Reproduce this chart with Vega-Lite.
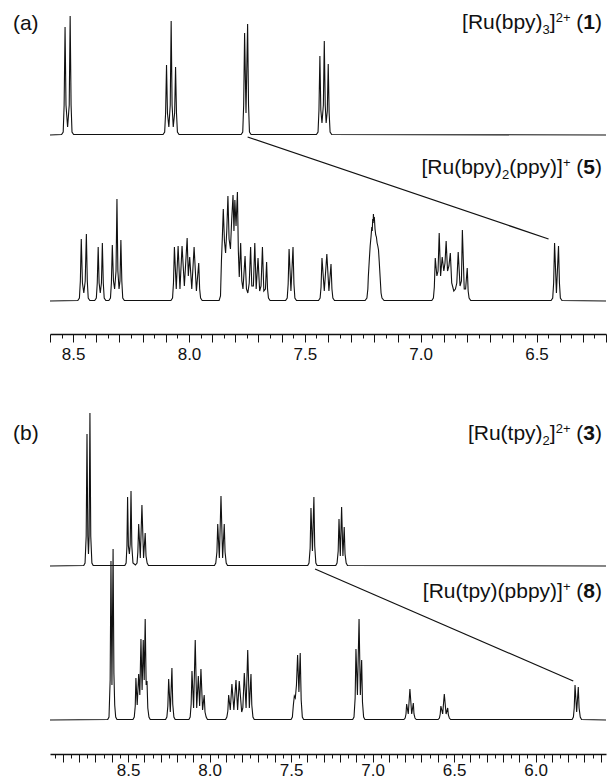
{
"$schema": "https://vega.github.io/schema/vega-lite/v6.json",
"background": "white",
"padding": {"left": 12, "top": 5, "right": 3, "bottom": 0},
"spacing": 29,
"config": {"view": {"stroke": null}, "font": "Liberation Sans",
  "axis": {"domainColor": "#111", "domainWidth": 1.5, "tickColor": "#111", "tickWidth": 1, "labelFont": "Liberation Sans", "labelFontSize": 17, "labelColor": "#111", "grid": false, "title": null},
  "axisX": {"tickCount": 50,
    "tickSize": {"condition": {"test": "abs(datum.value*10 - round(datum.value*10)) < 0.001", "value": 8}, "value": 4},
    "labelExpr": "abs(datum.value*2 - round(datum.value*2)) < 0.001 ? format(datum.value, '.1f') : ''",
    "labelPadding": 4, "labelOverlap": false, "labelFlush": false}},
"datasets": {
"a_top": [
{"ppm":8.6,"intensity":0},{"ppm":8.55,"intensity":0.5},{"ppm":8.543,"intensity":3},{"ppm":8.539,"intensity":30},{"ppm":8.535,"intensity":108},{"ppm":8.531,"intensity":30},{"ppm":8.524,"intensity":8},{"ppm":8.517,"intensity":30},{"ppm":8.513,"intensity":119},{"ppm":8.509,"intensity":30},{"ppm":8.505,"intensity":3},{"ppm":8.498,"intensity":0.5},
{"ppm":8.112,"intensity":0.5},{"ppm":8.105,"intensity":3},{"ppm":8.101,"intensity":22},{"ppm":8.097,"intensity":70},{"ppm":8.093,"intensity":22},{"ppm":8.087,"intensity":8},{"ppm":8.081,"intensity":30},{"ppm":8.077,"intensity":114},{"ppm":8.073,"intensity":30},{"ppm":8.068,"intensity":8},{"ppm":8.062,"intensity":22},{"ppm":8.058,"intensity":68},{"ppm":8.054,"intensity":22},{"ppm":8.05,"intensity":3},{"ppm":8.043,"intensity":0.5},
{"ppm":7.775,"intensity":0.5},{"ppm":7.768,"intensity":3},{"ppm":7.764,"intensity":30},{"ppm":7.76,"intensity":102},{"ppm":7.754,"intensity":22},{"ppm":7.747,"intensity":111},{"ppm":7.743,"intensity":30},{"ppm":7.739,"intensity":3},{"ppm":7.732,"intensity":0.5},
{"ppm":7.45,"intensity":0.5},{"ppm":7.443,"intensity":3},{"ppm":7.439,"intensity":25},{"ppm":7.435,"intensity":79},{"ppm":7.431,"intensity":25},{"ppm":7.426,"intensity":12},{"ppm":7.42,"intensity":30},{"ppm":7.416,"intensity":94},{"ppm":7.412,"intensity":30},{"ppm":7.408,"intensity":12},{"ppm":7.403,"intensity":24},{"ppm":7.399,"intensity":71},{"ppm":7.395,"intensity":22},{"ppm":7.391,"intensity":3},{"ppm":7.384,"intensity":0.5},
{"ppm":6.2,"intensity":0}],
"a_bot": [
{"ppm":8.6,"intensity":0},
{"ppm":8.48,"intensity":0.5},{"ppm":8.473,"intensity":3},{"ppm":8.469,"intensity":20},{"ppm":8.465,"intensity":62},{"ppm":8.46,"intensity":18},{"ppm":8.454,"intensity":8},{"ppm":8.448,"intensity":20},{"ppm":8.443,"intensity":67},{"ppm":8.439,"intensity":20},{"ppm":8.435,"intensity":3},{"ppm":8.428,"intensity":0.5},
{"ppm":8.407,"intensity":0.5},{"ppm":8.4,"intensity":3},{"ppm":8.396,"intensity":18},{"ppm":8.392,"intensity":54},{"ppm":8.388,"intensity":18},{"ppm":8.383,"intensity":8},{"ppm":8.378,"intensity":18},{"ppm":8.374,"intensity":58},{"ppm":8.37,"intensity":18},{"ppm":8.366,"intensity":3},{"ppm":8.359,"intensity":0.5},
{"ppm":8.346,"intensity":0.5},{"ppm":8.339,"intensity":3},{"ppm":8.335,"intensity":18},{"ppm":8.331,"intensity":56},{"ppm":8.326,"intensity":20},{"ppm":8.321,"intensity":12},{"ppm":8.315,"intensity":30},{"ppm":8.311,"intensity":102},{"ppm":8.307,"intensity":30},{"ppm":8.302,"intensity":12},{"ppm":8.298,"intensity":20},{"ppm":8.294,"intensity":61},{"ppm":8.29,"intensity":20},{"ppm":8.286,"intensity":3},{"ppm":8.279,"intensity":0.5},
{"ppm":8.078,"intensity":0.5},{"ppm":8.071,"intensity":3},{"ppm":8.067,"intensity":18},{"ppm":8.063,"intensity":54},{"ppm":8.055,"intensity":12},{"ppm":8.047,"intensity":55},{"ppm":8.039,"intensity":12},{"ppm":8.03,"intensity":55},{"ppm":8.02,"intensity":15},{"ppm":8.008,"intensity":63},{"ppm":8.003,"intensity":25},{"ppm":7.997,"intensity":44},{"ppm":7.988,"intensity":12},{"ppm":7.978,"intensity":54},{"ppm":7.968,"intensity":10},{"ppm":7.958,"intensity":38},{"ppm":7.954,"intensity":12},{"ppm":7.95,"intensity":3},{"ppm":7.943,"intensity":0.5},
{"ppm":7.87,"intensity":0.5},{"ppm":7.864,"intensity":5},{"ppm":7.86,"intensity":40},{"ppm":7.856,"intensity":64},{"ppm":7.852,"intensity":92},{"ppm":7.847,"intensity":60},{"ppm":7.842,"intensity":48},{"ppm":7.837,"intensity":70},{"ppm":7.832,"intensity":105},{"ppm":7.827,"intensity":62},{"ppm":7.821,"intensity":52},{"ppm":7.816,"intensity":80},{"ppm":7.81,"intensity":106},{"ppm":7.806,"intensity":70},{"ppm":7.802,"intensity":101},{"ppm":7.797,"intensity":75},{"ppm":7.791,"intensity":109},{"ppm":7.787,"intensity":50},{"ppm":7.783,"intensity":24},{"ppm":7.777,"intensity":58},{"ppm":7.772,"intensity":20},{"ppm":7.767,"intensity":12},{"ppm":7.758,"intensity":45},{"ppm":7.752,"intensity":12},{"ppm":7.746,"intensity":8},{"ppm":7.74,"intensity":18},{"ppm":7.734,"intensity":54},{"ppm":7.729,"intensity":15},{"ppm":7.722,"intensity":15},{"ppm":7.716,"intensity":58},{"ppm":7.71,"intensity":12},{"ppm":7.702,"intensity":43},{"ppm":7.695,"intensity":10},{"ppm":7.689,"intensity":15},{"ppm":7.683,"intensity":54},{"ppm":7.677,"intensity":10},{"ppm":7.67,"intensity":12},{"ppm":7.665,"intensity":39},{"ppm":7.661,"intensity":12},{"ppm":7.657,"intensity":3},{"ppm":7.65,"intensity":0.5},
{"ppm":7.583,"intensity":0.5},{"ppm":7.576,"intensity":3},{"ppm":7.572,"intensity":17},{"ppm":7.568,"intensity":52},{"ppm":7.56,"intensity":10},{"ppm":7.551,"intensity":54},{"ppm":7.547,"intensity":17},{"ppm":7.543,"intensity":3},{"ppm":7.536,"intensity":0.5},
{"ppm":7.441,"intensity":0.5},{"ppm":7.434,"intensity":3},{"ppm":7.43,"intensity":14},{"ppm":7.426,"intensity":43},{"ppm":7.416,"intensity":10},{"ppm":7.405,"intensity":47},{"ppm":7.396,"intensity":10},{"ppm":7.387,"intensity":37},{"ppm":7.383,"intensity":12},{"ppm":7.379,"intensity":3},{"ppm":7.372,"intensity":0.5},
{"ppm":7.24,"intensity":0.5},{"ppm":7.232,"intensity":3},{"ppm":7.228,"intensity":12},{"ppm":7.226,"intensity":24},{"ppm":7.222,"intensity":40},{"ppm":7.218,"intensity":55},{"ppm":7.214,"intensity":65},{"ppm":7.211,"intensity":74},{"ppm":7.209,"intensity":70},{"ppm":7.207,"intensity":82},{"ppm":7.205,"intensity":78},{"ppm":7.204,"intensity":87},{"ppm":7.202,"intensity":80},{"ppm":7.2,"intensity":84},{"ppm":7.197,"intensity":72},{"ppm":7.194,"intensity":66},{"ppm":7.191,"intensity":64},{"ppm":7.188,"intensity":58},{"ppm":7.185,"intensity":55},{"ppm":7.182,"intensity":51},{"ppm":7.179,"intensity":40},{"ppm":7.175,"intensity":24},{"ppm":7.171,"intensity":8},{"ppm":7.167,"intensity":3},{"ppm":7.158,"intensity":0.5},
{"ppm":6.952,"intensity":0.5},{"ppm":6.945,"intensity":3},{"ppm":6.941,"intensity":14},{"ppm":6.937,"intensity":43},{"ppm":6.93,"intensity":25},{"ppm":6.925,"intensity":30},{"ppm":6.92,"intensity":68},{"ppm":6.914,"intensity":25},{"ppm":6.907,"intensity":44},{"ppm":6.9,"intensity":30},{"ppm":6.895,"intensity":38},{"ppm":6.89,"intensity":60},{"ppm":6.884,"intensity":30},{"ppm":6.878,"intensity":35},{"ppm":6.872,"intensity":48},{"ppm":6.866,"intensity":18},{"ppm":6.857,"intensity":10},{"ppm":6.85,"intensity":12},{"ppm":6.844,"intensity":18},{"ppm":6.838,"intensity":49},{"ppm":6.83,"intensity":15},{"ppm":6.824,"intensity":20},{"ppm":6.82,"intensity":71},{"ppm":6.812,"intensity":12},{"ppm":6.806,"intensity":12},{"ppm":6.799,"intensity":33},{"ppm":6.795,"intensity":10},{"ppm":6.791,"intensity":3},{"ppm":6.784,"intensity":0.5},
{"ppm":6.437,"intensity":0.5},{"ppm":6.43,"intensity":3},{"ppm":6.426,"intensity":18},{"ppm":6.422,"intensity":58},{"ppm":6.414,"intensity":8},{"ppm":6.405,"intensity":55},{"ppm":6.401,"intensity":18},{"ppm":6.397,"intensity":3},{"ppm":6.39,"intensity":0.5},
{"ppm":6.2,"intensity":0}],
"a_link": [{"ppm":7.747,"intensity":164},{"ppm":6.448,"intensity":62}],
"b_top": [
{"ppm":8.979,"intensity":0},
{"ppm":8.772,"intensity":0.5},{"ppm":8.764,"intensity":3},{"ppm":8.757,"intensity":30},{"ppm":8.752,"intensity":132},{"ppm":8.747,"intensity":30},{"ppm":8.743,"intensity":12},{"ppm":8.739,"intensity":30},{"ppm":8.734,"intensity":153},{"ppm":8.729,"intensity":30},{"ppm":8.722,"intensity":3},{"ppm":8.714,"intensity":0.5},
{"ppm":8.52,"intensity":0.5},{"ppm":8.512,"intensity":3},{"ppm":8.507,"intensity":20},{"ppm":8.503,"intensity":69},{"ppm":8.498,"intensity":20},{"ppm":8.492,"intensity":12},{"ppm":8.487,"intensity":22},{"ppm":8.482,"intensity":75},{"ppm":8.477,"intensity":20},{"ppm":8.47,"intensity":3},
{"ppm":8.455,"intensity":1},{"ppm":8.445,"intensity":3},{"ppm":8.44,"intensity":14},{"ppm":8.435,"intensity":42},{"ppm":8.425,"intensity":8},{"ppm":8.415,"intensity":61},{"ppm":8.405,"intensity":8},{"ppm":8.395,"intensity":33},{"ppm":8.39,"intensity":10},{"ppm":8.383,"intensity":3},{"ppm":8.375,"intensity":0.5},
{"ppm":7.97,"intensity":0.5},{"ppm":7.962,"intensity":3},{"ppm":7.955,"intensity":14},{"ppm":7.95,"intensity":42},{"ppm":7.94,"intensity":8},{"ppm":7.93,"intensity":70},{"ppm":7.92,"intensity":8},{"ppm":7.91,"intensity":42},{"ppm":7.905,"intensity":14},{"ppm":7.898,"intensity":3},{"ppm":7.89,"intensity":0.5},
{"ppm":7.398,"intensity":0.5},{"ppm":7.39,"intensity":3},{"ppm":7.383,"intensity":18},{"ppm":7.378,"intensity":58},{"ppm":7.369,"intensity":15},{"ppm":7.36,"intensity":69},{"ppm":7.355,"intensity":20},{"ppm":7.348,"intensity":3},{"ppm":7.34,"intensity":0.5},
{"ppm":7.226,"intensity":0.5},{"ppm":7.218,"intensity":3},{"ppm":7.211,"intensity":15},{"ppm":7.206,"intensity":47},{"ppm":7.198,"intensity":10},{"ppm":7.19,"intensity":59},{"ppm":7.182,"intensity":10},{"ppm":7.174,"intensity":39},{"ppm":7.169,"intensity":12},{"ppm":7.162,"intensity":3},{"ppm":7.154,"intensity":0.5},
{"ppm":5.568,"intensity":0}],
"b_bot": [
{"ppm":8.979,"intensity":0},
{"ppm":8.625,"intensity":0.5},{"ppm":8.617,"intensity":3},{"ppm":8.61,"intensity":40},{"ppm":8.605,"intensity":159},{"ppm":8.599,"intensity":35},{"ppm":8.592,"intensity":171},{"ppm":8.587,"intensity":47},{"ppm":8.582,"intensity":15},{"ppm":8.576,"intensity":3},{"ppm":8.568,"intensity":0.5},
{"ppm":8.47,"intensity":0.5},{"ppm":8.462,"intensity":3},{"ppm":8.456,"intensity":14},{"ppm":8.452,"intensity":42},{"ppm":8.444,"intensity":15},{"ppm":8.435,"intensity":46},{"ppm":8.428,"intensity":25},{"ppm":8.421,"intensity":81},{"ppm":8.414,"intensity":30},{"ppm":8.407,"intensity":80},{"ppm":8.401,"intensity":40},{"ppm":8.395,"intensity":101},{"ppm":8.389,"intensity":35},{"ppm":8.384,"intensity":39},{"ppm":8.379,"intensity":12},{"ppm":8.372,"intensity":3},{"ppm":8.364,"intensity":0.5},
{"ppm":8.27,"intensity":0.5},{"ppm":8.262,"intensity":3},{"ppm":8.256,"intensity":14},{"ppm":8.251,"intensity":41},{"ppm":8.241,"intensity":8},{"ppm":8.231,"intensity":52},{"ppm":8.226,"intensity":16},{"ppm":8.219,"intensity":3},{"ppm":8.211,"intensity":0.5},
{"ppm":8.127,"intensity":0.5},{"ppm":8.119,"intensity":3},{"ppm":8.113,"intensity":16},{"ppm":8.108,"intensity":49},{"ppm":8.098,"intensity":12},{"ppm":8.088,"intensity":80},{"ppm":8.079,"intensity":12},{"ppm":8.069,"intensity":44},{"ppm":8.061,"intensity":14},{"ppm":8.053,"intensity":51},{"ppm":8.043,"intensity":10},{"ppm":8.033,"intensity":25},{"ppm":8.028,"intensity":8},{"ppm":8.021,"intensity":3},{"ppm":8.013,"intensity":0.5},
{"ppm":7.902,"intensity":0.5},{"ppm":7.894,"intensity":3},{"ppm":7.888,"intensity":9},{"ppm":7.883,"intensity":25},{"ppm":7.873,"intensity":10},{"ppm":7.863,"intensity":36},{"ppm":7.851,"intensity":10},{"ppm":7.838,"intensity":40},{"ppm":7.828,"intensity":10},{"ppm":7.818,"intensity":39},{"ppm":7.803,"intensity":8},{"ppm":7.796,"intensity":12},{"ppm":7.787,"intensity":47},{"ppm":7.776,"intensity":12},{"ppm":7.766,"intensity":70},{"ppm":7.756,"intensity":12},{"ppm":7.746,"intensity":46},{"ppm":7.741,"intensity":15},{"ppm":7.734,"intensity":3},{"ppm":7.726,"intensity":0.5},
{"ppm":7.5,"intensity":0.5},{"ppm":7.492,"intensity":3},{"ppm":7.486,"intensity":15},{"ppm":7.48,"intensity":24},{"ppm":7.474,"intensity":22},{"ppm":7.467,"intensity":35},{"ppm":7.46,"intensity":65},{"ppm":7.452,"intensity":28},{"ppm":7.444,"intensity":67},{"ppm":7.438,"intensity":20},{"ppm":7.431,"intensity":3},{"ppm":7.423,"intensity":0.5},
{"ppm":7.122,"intensity":0.5},{"ppm":7.114,"intensity":3},{"ppm":7.107,"intensity":22},{"ppm":7.102,"intensity":71},{"ppm":7.093,"intensity":25},{"ppm":7.083,"intensity":101},{"ppm":7.075,"intensity":25},{"ppm":7.067,"intensity":60},{"ppm":7.062,"intensity":18},{"ppm":7.055,"intensity":3},{"ppm":7.047,"intensity":0.5},
{"ppm":6.808,"intensity":0.5},{"ppm":6.8,"intensity":2},{"ppm":6.795,"intensity":6},{"ppm":6.791,"intensity":16},{"ppm":6.781,"intensity":6},{"ppm":6.771,"intensity":31},{"ppm":6.76,"intensity":6},{"ppm":6.75,"intensity":17},{"ppm":6.746,"intensity":6},{"ppm":6.74,"intensity":2},{"ppm":6.732,"intensity":0.5},
{"ppm":6.598,"intensity":0.5},{"ppm":6.59,"intensity":2},{"ppm":6.585,"intensity":6},{"ppm":6.581,"intensity":14},{"ppm":6.57,"intensity":6},{"ppm":6.56,"intensity":26},{"ppm":6.549,"intensity":6},{"ppm":6.539,"intensity":12},{"ppm":6.535,"intensity":5},{"ppm":6.529,"intensity":2},{"ppm":6.521,"intensity":0.5},
{"ppm":5.776,"intensity":0.5},{"ppm":5.768,"intensity":3},{"ppm":5.763,"intensity":12},{"ppm":5.758,"intensity":35},{"ppm":5.748,"intensity":8},{"ppm":5.738,"intensity":33},{"ppm":5.733,"intensity":12},{"ppm":5.726,"intensity":3},{"ppm":5.718,"intensity":0.5},
{"ppm":5.568,"intensity":0}],
"b_link": [{"ppm":7.353,"intensity":151},{"ppm":5.769,"intensity":39}]
},
"vconcat": [
{
 "width": 556, "height": 329,
 "resolve": {"scale": {"y": "independent"}},
 "layer": [
  {"layer": [
   {"data": {"name": "a_top"}, "mark": {"type": "line", "stroke": "#111", "strokeWidth": 1.1},
    "encoding": {
     "x": {"field": "ppm", "type": "quantitative", "title": null, "scale": {"domain": [6.2, 8.6], "reverse": true, "nice": false, "zero": false}},
     "y": {"field": "intensity", "type": "quantitative", "scale": {"domain": [0, 100], "range": [130, 30], "nice": false, "zero": false}, "axis": null}}},
   {"data": {"values": [{}]}, "mark": {"type": "text", "text": "(a)", "font": "Liberation Sans", "fontSize": 21, "align": "left", "baseline": "alphabetic", "color": "#111"}, "encoding": {"x": {"datum": 8.76}, "y": {"datum": 105}}},
   {"data": {"values": [{}]}, "mark": {"type": "text", "text": ")", "font": "Liberation Sans", "fontSize": 21, "align": "right", "baseline": "alphabetic", "color": "#111", "dx": 0}, "encoding": {"x": {"datum": 6.2173}, "y": {"datum": 106}}},
   {"data": {"values": [{}]}, "mark": {"type": "text", "text": "1", "font": "Liberation Sans", "fontSize": 21, "fontWeight": "bold", "align": "right", "baseline": "alphabetic", "color": "#111", "dx": -6.99}, "encoding": {"x": {"datum": 6.2173}, "y": {"datum": 106}}},
   {"data": {"values": [{}]}, "mark": {"type": "text", "text": " (", "font": "Liberation Sans", "fontSize": 21, "align": "right", "baseline": "alphabetic", "color": "#111", "dx": -18.67}, "encoding": {"x": {"datum": 6.2173}, "y": {"datum": 106}}},
   {"data": {"values": [{}]}, "mark": {"type": "text", "text": "2+", "font": "Liberation Sans", "fontSize": 13, "align": "right", "baseline": "alphabetic", "color": "#111", "dx": -31.5, "dy": -7}, "encoding": {"x": {"datum": 6.2173}, "y": {"datum": 106}}},
   {"data": {"values": [{}]}, "mark": {"type": "text", "text": "]", "font": "Liberation Sans", "fontSize": 21, "align": "right", "baseline": "alphabetic", "color": "#111", "dx": -46.32}, "encoding": {"x": {"datum": 6.2173}, "y": {"datum": 106}}},
   {"data": {"values": [{}]}, "mark": {"type": "text", "text": "3", "font": "Liberation Sans", "fontSize": 13, "align": "right", "baseline": "alphabetic", "color": "#111", "dx": -52.16, "dy": 5}, "encoding": {"x": {"datum": 6.2173}, "y": {"datum": 106}}},
   {"data": {"values": [{}]}, "mark": {"type": "text", "text": "[Ru(bpy)", "font": "Liberation Sans", "fontSize": 21, "align": "right", "baseline": "alphabetic", "color": "#111", "dx": -59.39}, "encoding": {"x": {"datum": 6.2173}, "y": {"datum": 106}}}
  ]},
  {"layer": [
   {"data": {"name": "a_bot"}, "mark": {"type": "line", "stroke": "#111", "strokeWidth": 1.1},
    "encoding": {
     "x": {"field": "ppm", "type": "quantitative", "title": null},
     "y": {"field": "intensity", "type": "quantitative", "scale": {"domain": [0, 100], "range": [296, 196], "nice": false, "zero": false}, "axis": null}}},
   {"data": {"name": "a_link"}, "mark": {"type": "line", "stroke": "#111", "strokeWidth": 1.2},
    "encoding": {"x": {"field": "ppm", "type": "quantitative", "title": null}, "y": {"field": "intensity", "type": "quantitative"}}},
   {"data": {"values": [{}]}, "mark": {"type": "text", "text": ")", "font": "Liberation Sans", "fontSize": 21, "align": "right", "baseline": "alphabetic", "color": "#111", "dx": 0}, "encoding": {"x": {"datum": 6.2173}, "y": {"datum": 127}}},
   {"data": {"values": [{}]}, "mark": {"type": "text", "text": "5", "font": "Liberation Sans", "fontSize": 21, "fontWeight": "bold", "align": "right", "baseline": "alphabetic", "color": "#111", "dx": -6.99}, "encoding": {"x": {"datum": 6.2173}, "y": {"datum": 127}}},
   {"data": {"values": [{}]}, "mark": {"type": "text", "text": " (", "font": "Liberation Sans", "fontSize": 21, "align": "right", "baseline": "alphabetic", "color": "#111", "dx": -18.67}, "encoding": {"x": {"datum": 6.2173}, "y": {"datum": 127}}},
   {"data": {"values": [{}]}, "mark": {"type": "text", "text": "+", "font": "Liberation Sans", "fontSize": 13, "align": "right", "baseline": "alphabetic", "color": "#111", "dx": -31.5, "dy": -7}, "encoding": {"x": {"datum": 6.2173}, "y": {"datum": 127}}},
   {"data": {"values": [{}]}, "mark": {"type": "text", "text": "(ppy)]", "font": "Liberation Sans", "fontSize": 21, "align": "right", "baseline": "alphabetic", "color": "#111", "dx": -39.09}, "encoding": {"x": {"datum": 6.2173}, "y": {"datum": 127}}},
   {"data": {"values": [{}]}, "mark": {"type": "text", "text": "2", "font": "Liberation Sans", "fontSize": 13, "align": "right", "baseline": "alphabetic", "color": "#111", "dx": -92.77, "dy": 5}, "encoding": {"x": {"datum": 6.2173}, "y": {"datum": 127}}},
   {"data": {"values": [{}]}, "mark": {"type": "text", "text": "[Ru(bpy)", "font": "Liberation Sans", "fontSize": 21, "align": "right", "baseline": "alphabetic", "color": "#111", "dx": -100.0}, "encoding": {"x": {"datum": 6.2173}, "y": {"datum": 127}}}
  ]}
 ]
},
{
 "width": 556, "height": 363,
 "resolve": {"scale": {"y": "independent"}},
 "layer": [
  {"layer": [
   {"data": {"name": "b_top"}, "mark": {"type": "line", "stroke": "#111", "strokeWidth": 1.1},
    "encoding": {
     "x": {"field": "ppm", "type": "quantitative", "title": null, "scale": {"domain": [5.568, 8.979], "reverse": true, "nice": false, "zero": false}, "axis": {"labelPadding": 0}},
     "y": {"field": "intensity", "type": "quantitative", "scale": {"domain": [0, 100], "range": [175, 75], "nice": false, "zero": false}, "axis": null}}},
   {"data": {"values": [{}]}, "mark": {"type": "text", "text": "(b)", "font": "Liberation Sans", "fontSize": 21, "align": "left", "baseline": "alphabetic", "color": "#111"}, "encoding": {"x": {"datum": 9.206}, "y": {"datum": 126}}},
   {"data": {"values": [{}]}, "mark": {"type": "text", "text": ")", "font": "Liberation Sans", "fontSize": 21, "align": "right", "baseline": "alphabetic", "color": "#111", "dx": 0}, "encoding": {"x": {"datum": 5.5925}, "y": {"datum": 126}}},
   {"data": {"values": [{}]}, "mark": {"type": "text", "text": "3", "font": "Liberation Sans", "fontSize": 21, "fontWeight": "bold", "align": "right", "baseline": "alphabetic", "color": "#111", "dx": -6.99}, "encoding": {"x": {"datum": 5.5925}, "y": {"datum": 126}}},
   {"data": {"values": [{}]}, "mark": {"type": "text", "text": " (", "font": "Liberation Sans", "fontSize": 21, "align": "right", "baseline": "alphabetic", "color": "#111", "dx": -18.67}, "encoding": {"x": {"datum": 5.5925}, "y": {"datum": 126}}},
   {"data": {"values": [{}]}, "mark": {"type": "text", "text": "2+", "font": "Liberation Sans", "fontSize": 13, "align": "right", "baseline": "alphabetic", "color": "#111", "dx": -31.5, "dy": -7}, "encoding": {"x": {"datum": 5.5925}, "y": {"datum": 126}}},
   {"data": {"values": [{}]}, "mark": {"type": "text", "text": "]", "font": "Liberation Sans", "fontSize": 21, "align": "right", "baseline": "alphabetic", "color": "#111", "dx": -46.32}, "encoding": {"x": {"datum": 5.5925}, "y": {"datum": 126}}},
   {"data": {"values": [{}]}, "mark": {"type": "text", "text": "2", "font": "Liberation Sans", "fontSize": 13, "align": "right", "baseline": "alphabetic", "color": "#111", "dx": -52.16, "dy": 5}, "encoding": {"x": {"datum": 5.5925}, "y": {"datum": 126}}},
   {"data": {"values": [{}]}, "mark": {"type": "text", "text": "[Ru(tpy)", "font": "Liberation Sans", "fontSize": 21, "align": "right", "baseline": "alphabetic", "color": "#111", "dx": -59.39}, "encoding": {"x": {"datum": 5.5925}, "y": {"datum": 126}}}
  ]},
  {"layer": [
   {"data": {"name": "b_bot"}, "mark": {"type": "line", "stroke": "#111", "strokeWidth": 1.1},
    "encoding": {
     "x": {"field": "ppm", "type": "quantitative", "title": null},
     "y": {"field": "intensity", "type": "quantitative", "scale": {"domain": [0, 100], "range": [329, 229], "nice": false, "zero": false}, "axis": null}}},
   {"data": {"name": "b_link"}, "mark": {"type": "line", "stroke": "#111", "strokeWidth": 1.2},
    "encoding": {"x": {"field": "ppm", "type": "quantitative", "title": null}, "y": {"field": "intensity", "type": "quantitative"}}},
   {"data": {"values": [{}]}, "mark": {"type": "text", "text": ")", "font": "Liberation Sans", "fontSize": 21, "align": "right", "baseline": "alphabetic", "color": "#111", "dx": 0}, "encoding": {"x": {"datum": 5.5925}, "y": {"datum": 122}}},
   {"data": {"values": [{}]}, "mark": {"type": "text", "text": "8", "font": "Liberation Sans", "fontSize": 21, "fontWeight": "bold", "align": "right", "baseline": "alphabetic", "color": "#111", "dx": -6.99}, "encoding": {"x": {"datum": 5.5925}, "y": {"datum": 122}}},
   {"data": {"values": [{}]}, "mark": {"type": "text", "text": " (", "font": "Liberation Sans", "fontSize": 21, "align": "right", "baseline": "alphabetic", "color": "#111", "dx": -18.67}, "encoding": {"x": {"datum": 5.5925}, "y": {"datum": 122}}},
   {"data": {"values": [{}]}, "mark": {"type": "text", "text": "+", "font": "Liberation Sans", "fontSize": 13, "align": "right", "baseline": "alphabetic", "color": "#111", "dx": -31.5, "dy": -7}, "encoding": {"x": {"datum": 5.5925}, "y": {"datum": 122}}},
   {"data": {"values": [{}]}, "mark": {"type": "text", "text": "[Ru(tpy)(pbpy)]", "font": "Liberation Sans", "fontSize": 21, "align": "right", "baseline": "alphabetic", "color": "#111", "dx": -39.09}, "encoding": {"x": {"datum": 5.5925}, "y": {"datum": 122}}}
  ]}
 ]
}
]
}
